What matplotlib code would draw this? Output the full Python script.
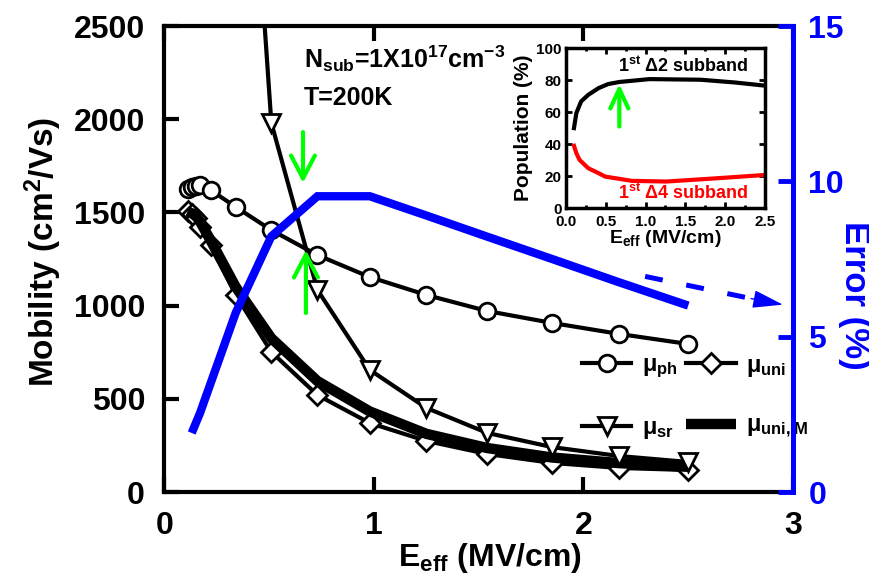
import matplotlib
matplotlib.use('Agg')
import matplotlib.pyplot as plt
from matplotlib.patches import FancyArrowPatch

plt.rcParams['font.family'] = ['Liberation Sans', 'DejaVu Sans']
plt.rcParams['font.weight'] = 'bold'
plt.rcParams['mathtext.fontset'] = 'custom'
plt.rcParams['mathtext.rm'] = 'Liberation Sans:bold'
plt.rcParams['mathtext.it'] = 'Liberation Sans:bold'
plt.rcParams['mathtext.bf'] = 'Liberation Sans:bold'
plt.rcParams['mathtext.sf'] = 'Liberation Sans:bold'
plt.rcParams['axes.unicode_minus'] = False

# ---------------- data ----------------
E_grid = [0.11, 0.13, 0.15, 0.17, 0.22, 0.34, 0.51, 0.73, 0.98, 1.25, 1.54, 1.85, 2.17, 2.50]
mu_ph = [1625, 1635, 1640, 1647, 1620, 1529, 1405, 1271, 1153, 1057, 971, 907, 848, 794]
mu_uni = [1510, 1490, 1470, 1422, 1325, 1057, 751, 520, 370, 274, 204, 156, 129, 118]
mu_uniM = [1505, 1495, 1480, 1450, 1350, 1100, 825, 595, 432, 312, 236, 185, 155, 135]
E_sr = [0.22, 0.34, 0.51, 0.73, 0.98, 1.25, 1.54, 1.85, 2.17, 2.50]
mu_sr = [8000, 4750, 1980, 1084, 655, 451, 317, 241, 193, 161]

E_err = [0.13, 0.17, 0.34, 0.51, 0.73, 0.98, 1.25, 1.54, 1.85, 2.17, 2.50]
err = [1.90, 2.55, 5.77, 8.23, 9.52, 9.52, 8.90, 8.22, 7.50, 6.75, 6.00]

E_pop2 = [0.10, 0.13, 0.19, 0.28, 0.41, 0.53, 0.67, 1.05, 1.69, 2.12, 2.50]
pop2 = [50.0, 59.4, 66.7, 70.8, 75.0, 77.5, 78.8, 80.6, 80.2, 78.5, 76.5]
E_pop4 = [0.10, 0.13, 0.17, 0.28, 0.41, 0.49, 0.83, 1.26, 1.90, 2.50]
pop4 = [39.0, 34.4, 30.2, 25.0, 21.9, 19.8, 17.1, 16.7, 18.75, 20.8]

x_ticks = [0, 1, 2, 3]
y_ticks = [0, 500, 1000, 1500, 2000, 2500]
err_ticks = [0, 5, 10, 15]
in_x_ticks = [0.0, 0.5, 1.0, 1.5, 2.0, 2.5]
in_y_ticks = [0, 20, 40, 60, 80, 100]

BLUE = '#0000ff'
GREEN = '#00ff00'

fig = plt.figure(figsize=(8.7, 5.88), dpi=100)
W, H = 870.0, 588.0
ax = fig.add_axes([164.5 / W, (H - 492) / H, 628.5 / W, 466 / H])

h_ph, = ax.plot(E_grid, mu_ph, '-o', color='k', lw=3, ms=12, mfc='white',
                mec='k', mew=2, zorder=3, label='μ$_{\\rm ph}$')
h_uni, = ax.plot(E_grid, mu_uni, '-D', color='k', lw=3, ms=10, mfc='white',
                 mec='k', mew=2, zorder=3, label='μ$_{\\rm uni}$')
h_uniM, = ax.plot(E_grid, mu_uniM, '-', color='k', lw=7.5, zorder=4,
                  solid_capstyle='butt', label='μ$_{\\rm uni,M}$')
h_sr, = ax.plot(E_sr, mu_sr, '-v', color='k', lw=3, ms=12.5, mfc='white',
                mec='k', mew=2, zorder=5, label='μ$_{\\rm sr}$')

ax.set_xlim(0, 3)
ax.set_ylim(0, 2500)
ax.set_xticks(x_ticks)
ax.set_yticks(y_ticks)
ax.tick_params(axis='both', direction='in', length=11, width=3, labelsize=23)
ax.tick_params(axis='x', top=True, pad=14)
ax.tick_params(axis='y', right=False, pad=14)
for s in ax.spines.values():
    s.set_linewidth(3)
ax.spines['right'].set_visible(False)

ax.set_ylabel('Mobility (cm$^{\\rm 2}$/Vs)', fontsize=24, fontweight='bold')
ax.yaxis.set_label_coords(-0.16, 0.515)
ax.set_xlabel('E$_{\\rm eff}$ (MV/cm)', fontsize=23, fontweight='bold')
ax.xaxis.set_label_coords(0.518, -0.105)

leg = ax.legend([h_ph, h_sr, h_uni, h_uniM],
                [h_ph.get_label(), h_sr.get_label(), h_uni.get_label(), h_uniM.get_label()],
                ncol=2, loc='upper left', bbox_to_anchor=(0.664, 0.297),
                frameon=False, fontsize=17, handlelength=2.1, handletextpad=0.45,
                columnspacing=0.35, labelspacing=1.5, borderpad=0, borderaxespad=0,
                numpoints=1)

ax.text(0.666, 2275, 'N$_{\\rm sub}$=1X10$^{\\rm 17}$cm$^{{-}\\rm 3}$', fontsize=18,
        fontweight='bold', ha='left', va='baseline')
ax.text(0.666, 2076, 'T=200K', fontsize=18, fontweight='bold', ha='left', va='baseline')

# green arrows
ax.add_patch(FancyArrowPatch((0.661, 1931), (0.661, 1658),
                             arrowstyle='->,head_length=16.5,head_width=8.6',
                             mutation_scale=1, lw=3, color=GREEN, shrinkA=0, shrinkB=0,
                             zorder=8))
ax.add_patch(FancyArrowPatch((0.675, 960), (0.675, 1298),
                             arrowstyle='->,head_length=16.5,head_width=8.6',
                             mutation_scale=1, lw=3, color=GREEN, shrinkA=0, shrinkB=0,
                             zorder=8))

# right axis
ax2 = ax.twinx()
ax2.plot(E_err, err, '-', color=BLUE, lw=6, solid_joinstyle='miter', solid_capstyle='butt')
ax2.set_ylim(0, 15)
ax2.set_yticks(err_ticks)
ax2.tick_params(axis='y', direction='in', length=11, width=3.5, colors=BLUE,
                labelsize=23, pad=11)
ax2.spines['right'].set_color(BLUE)
ax2.spines['right'].set_linewidth(3.6)
for k in ['left', 'top', 'bottom']:
    ax2.spines[k].set_visible(False)
ax2.set_ylabel('Error (%)', rotation=270, fontsize=25, fontweight='bold', color=BLUE,
               va='bottom')
ax2.yaxis.set_label_coords(1.0716, 0.423)

# dashed blue arrow: dashed shaft + solid head
ax2.annotate('', xy=(2.826, 6.19), xytext=(2.294, 6.94),
             arrowprops=dict(arrowstyle='-', lw=3.6, color=BLUE,
                             linestyle=(0, (3.6, 4.8)), shrinkA=0, shrinkB=0,
                             capstyle='butt'))
ax2.annotate('', xy=(2.952, 6.03), xytext=(2.80, 6.226),
             arrowprops=dict(arrowstyle='-|>,head_length=19,head_width=5.6',
                             mutation_scale=1, lw=1, color=BLUE, shrinkA=0, shrinkB=0))

# inset
axin = fig.add_axes([566 / W, (H - 208.3) / H, 199 / W, 160.3 / H])
axin.plot(E_pop2, pop2, '-', color='k', lw=3)
axin.plot(E_pop4, pop4, '-', color='#ff0000', lw=3)
axin.set_xlim(0, 2.5)
axin.set_ylim(0, 100)
axin.set_xticks(in_x_ticks)
axin.set_xticklabels(['%.1f' % v for v in in_x_ticks])
axin.set_yticks(in_y_ticks)
axin.set_xticks([0.25, 0.75, 1.25, 1.75, 2.25], minor=True)
axin.tick_params(which='both', direction='in', top=True, right=True, width=2)
axin.tick_params(which='major', length=4, labelsize=11, pad=3)
axin.tick_params(axis='x', which='major', pad=5)
axin.tick_params(which='minor', length=2.5)
for s in axin.spines.values():
    s.set_linewidth(2.5)
axin.set_ylabel('Population (%)', fontsize=15, fontweight='bold')
axin.yaxis.set_label_coords(-0.166, 0.5)
axin.set_xlabel('E$_{\\rm eff}$ (MV/cm)', fontsize=14, fontweight='bold')
axin.xaxis.set_label_coords(0.5, -0.125)
axin.text(0.65, 89, '1$^{\\rm st}$ Δ2 subband', fontsize=13, fontweight='bold',
          ha='left', va='center', color='k')
axin.text(0.65, 9.6, '1$^{\\rm st}$ Δ4 subband', fontsize=13, fontweight='bold',
          ha='left', va='center', color='#ff0000')
axin.add_patch(FancyArrowPatch((0.67, 51), (0.67, 77.5),
                               arrowstyle='->,head_length=14,head_width=6.5',
                               mutation_scale=1, lw=3, color=GREEN, shrinkA=0, shrinkB=0))

fig.savefig('out.png', dpi=100)
